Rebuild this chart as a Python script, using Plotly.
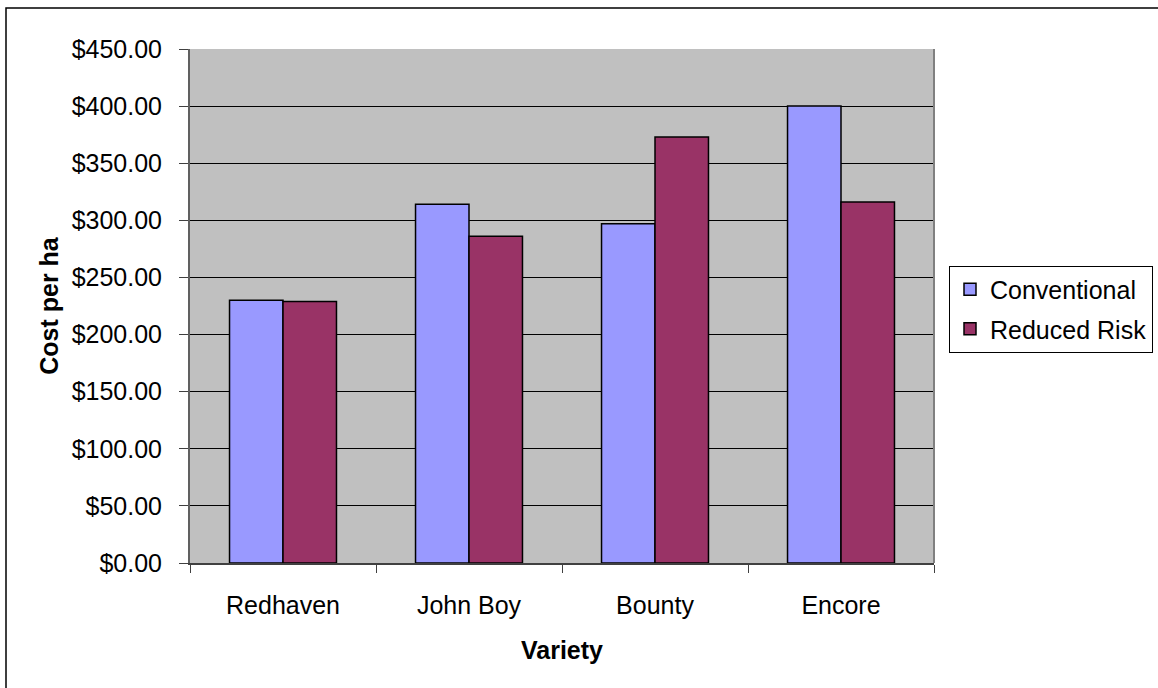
import plotly.graph_objects as go

categories = ["Redhaven", "John Boy", "Bounty", "Encore"]
conventional = [230, 314, 297, 400]
reduced_risk = [229, 286, 373, 316]
series_names = ["Conventional", "Reduced Risk"]
y_ticks = [0, 50, 100, 150, 200, 250, 300, 350, 400, 450]
y_tick_text = ["$" + format(v, ",.2f") for v in y_ticks]
x_title = "Variety"
y_title = "Cost per ha"

FONT = "Liberation Sans, Arial, sans-serif"
FS = 25
W, H = 1158, 688
L, R, T, B = 190, 224, 49, 125

fig = go.Figure()
fig.add_trace(go.Bar(x=categories, y=conventional, name=series_names[0], legendgroup="a",
                     marker=dict(color="#9999FF", line=dict(color="black", width=1.5))))
fig.add_trace(go.Bar(x=categories, y=reduced_risk, name=series_names[1], legendgroup="b",
                     marker=dict(color="#993366", line=dict(color="black", width=1.5))))

pw = W - L - R
ph = H - T - B

fig.update_layout(
    width=W, height=H,
    margin=dict(l=L, r=R, t=T, b=B, pad=0, autoexpand=False),
    paper_bgcolor="white",
    plot_bgcolor="#C0C0C0",
    font=dict(family=FONT, size=FS, color="black"),
    barmode="group",
    bargap=0.425,
    bargroupgap=0,
    showlegend=True,
    legend=dict(
        xref="container", yref="container",
        x=949 / W, xanchor="left",
        y=1 - 309 / H, yanchor="middle",
        bordercolor="black", borderwidth=1,
        bgcolor="white",
        font=dict(family=FONT, size=FS, color="black"),
        tracegroupgap=4,
    ),
    xaxis=dict(
        title=dict(text="<b>" + x_title + "</b>", font=dict(family=FONT, size=FS), standoff=23),
        tickson="boundaries",
        ticks="outside", ticklen=8, tickcolor="#404040", tickwidth=1,
        showline=True, linecolor="#404040", linewidth=2,
        showgrid=False,
        tickfont=dict(family=FONT, size=FS),
        ticklabelstandoff=19,
    ),
    yaxis=dict(
        title=dict(text="<b>" + y_title + "</b>", font=dict(family=FONT, size=FS), standoff=6),
        range=[0, 450],
        tickmode="array",
        tickvals=y_ticks,
        ticktext=y_tick_text,
        ticks="outside", ticklen=9, tickcolor="#404040", tickwidth=1,
        showline=True, linecolor="#606060", linewidth=2,
        showgrid=True, gridcolor="black", gridwidth=1,
        zeroline=False,
        tickfont=dict(family=FONT, size=FS),
        ticklabelstandoff=12,
    ),
    shapes=[
        dict(type="line", xref="paper", yref="paper", x0=1, x1=1, y0=0, y1=1,
             line=dict(color="#808080", width=2)),
        dict(type="rect", xref="paper", yref="paper",
             x0=(6 - L) / pw, x1=(W + 20 - L) / pw,
             y0=(H - B - (H + 20)) / ph, y1=(H - B - 8) / ph,
             line=dict(color="black", width=1.5), layer="below"),
    ],
)

fig.write_html("out.html")
